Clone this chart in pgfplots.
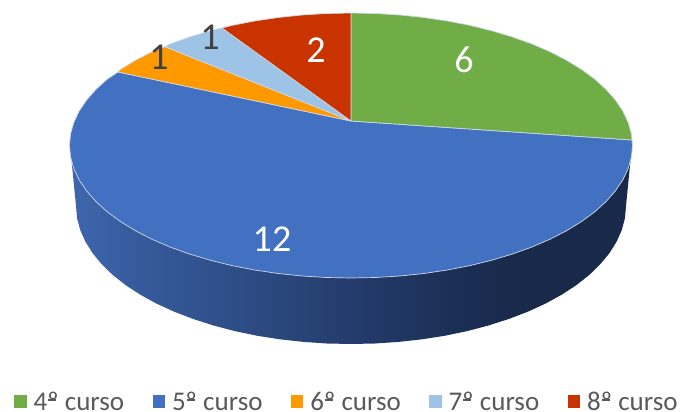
\documentclass[border=0pt]{standalone}
\usepackage{fontspec}
\setmainfont{Carlito}
\usepackage{pgfplots}
\pgfplotsset{compat=1.18}
\definecolor{cg}{RGB}{112,173,71}
\definecolor{cb}{RGB}{66,113,194}
\definecolor{co}{RGB}{255,153,0}
\definecolor{cl}{RGB}{157,195,230}
\definecolor{cr}{RGB}{200,51,0}
\definecolor{edge}{RGB}{208,216,230}
\definecolor{ltxt}{RGB}{89,89,89}
\definecolor{dtxt}{RGB}{64,64,64}
\definecolor{s1}{RGB}{62,101,172}
\definecolor{s2}{RGB}{53,88,153}
\definecolor{s3}{RGB}{45,76,132}
\definecolor{s4}{RGB}{36,60,108}
\definecolor{s5}{RGB}{28,47,86}
\definecolor{s6}{RGB}{24,41,73}
\pgfdeclarehorizontalshading{sideshade}{100bp}{color(0bp)=(s1); color(25.5bp)=(s1); color(32.1bp)=(s2); color(41bp)=(s3); color(49.9bp)=(s4); color(58.8bp)=(s5); color(65.9bp)=(s6); color(100bp)=(s6)}
\newcommand\piewedge[2]{\addplot[forget plot,fill=#1,draw=edge,line width=0.7pt,line join=round] coordinates {#2} -- cycle;}
\newcommand\ordo{\makebox[0pt][l]{\hspace{0.03em}\rule[0.36em]{0.3em}{0.055em}}º}
\begin{document}
\begin{tikzpicture}
\path[use as bounding box] (0,0) rectangle (683pt,412pt);
\begin{axis}[
  scale only axis,width=683pt,height=412pt,
  xmin=0,xmax=683,ymin=0,ymax=412,y dir=reverse,
  hide axis,clip=false,
  legend columns=5,
  legend image code/.code={\fill[#1,draw=none] (0pt,-6pt) rectangle (12.5pt,7pt);\path[draw=none,fill=none] (0pt,0pt) rectangle (17.5pt,0.1pt);},
  legend style={at={(axis cs:14,414)},anchor=south west,draw=none,fill=none,
    font=\fontsize{27}{27}\selectfont,text=ltxt,inner sep=0pt,
    /tikz/every even column/.append style={column sep=26.3pt}},
]
\addlegendimage{fill=cg}\addlegendentry{4\ordo{} curso}
\addlegendimage{fill=cb}\addlegendentry{5\ordo{} curso}
\addlegendimage{fill=co}\addlegendentry{6\ordo{} curso}
\addlegendimage{fill=cl}\addlegendentry{7\ordo{} curso}
\addlegendimage{fill=cr}\addlegendentry{8\ordo{} curso}
% side of the pie
\addplot[forget plot,shade,shading=sideshade,draw=none] coordinates {(70.5,150)(76,206)(77,218)(80.2,230)(85.4,241.7)(92.6,253.2)(101.8,264.3)(112.8,275)(125.7,285.2)(140.3,294.7)(156.5,303.6)(174.2,311.7)(193.3,319)(213.5,325.5)(234.8,331.1)(256.9,335.7)(279.8,339.3)(303.3,341.9)(327,343.5)(351,344)(375,343.5)(398.7,341.9)(422.2,339.3)(445.1,335.7)(467.2,331.1)(488.5,325.5)(508.7,319)(527.8,311.7)(545.5,303.6)(561.7,294.7)(576.3,285.2)(589.2,275)(600.2,264.3)(609.4,253.2)(616.6,241.7)(621.8,230)(625,218)(626,206)(631.5,150)} -- cycle;
% top of the pie
\piewedge{cb}{(351,121)(632,140)(632.5,145.5)(631.4,157.1)(628.2,168.5)(622.9,179.8)(615.5,190.8)(606.1,201.5)(594.8,211.8)(581.6,221.5)(566.6,230.7)(550.1,239.2)(532,247)(512.5,254)(491.8,260.2)(470,265.6)(447.3,270)(423.9,273.5)(399.9,276)(375.5,277.5)(351,278)(326.5,277.5)(302.1,276)(278.1,273.5)(254.7,270)(232,265.6)(210.2,260.2)(189.5,254)(170,247)(151.9,239.2)(135.4,230.7)(120.4,221.5)(107.2,211.8)(95.9,201.5)(86.5,190.8)(79.1,179.8)(73.8,168.5)(70.6,157.1)(69.5,145.5)(70.6,133.9)(73.8,122.5)(79.1,111.2)(86.5,100.2)(95.9,89.5)(107.2,79.2)(118,72)}
\piewedge{cg}{(351,121)(351,13)(375.5,13.5)(399.9,15)(423.9,17.5)(447.3,21)(470,25.4)(491.8,30.8)(512.5,37)(532,44)(550.1,51.8)(566.6,60.3)(581.6,69.5)(594.8,79.2)(606.1,89.5)(615.5,100.2)(622.9,111.2)(628.2,122.5)(631.4,133.9)(632,140)}
\piewedge{co}{(351,121)(118,72)(120.4,69.5)(135.4,60.3)(151.9,51.8)(165,46.7)}
\piewedge{cl}{(351,121)(165,46.7)(170,44)(189.5,37)(210.2,30.8)(222,28)}
\piewedge{cr}{(351,121)(222,28)(232,25.4)(254.7,21)(278.1,17.5)(302.1,15)(326.5,13.5)(351,13)}
% data labels
\node[text=white,font=\fontsize{38}{38}\selectfont] at (axis cs:464,60) {6};
\node[text=white,font=\fontsize{38}{38}\selectfont] at (axis cs:272,239) {12};
\node[text=white,font=\fontsize{38}{38}\selectfont] at (axis cs:316,50) {2};
\node[text=dtxt,font=\fontsize{38}{38}\selectfont] at (axis cs:159,57) {1};
\node[text=dtxt,font=\fontsize{38}{38}\selectfont] at (axis cs:210,37) {1};
\end{axis}
\end{tikzpicture}
\end{document}
